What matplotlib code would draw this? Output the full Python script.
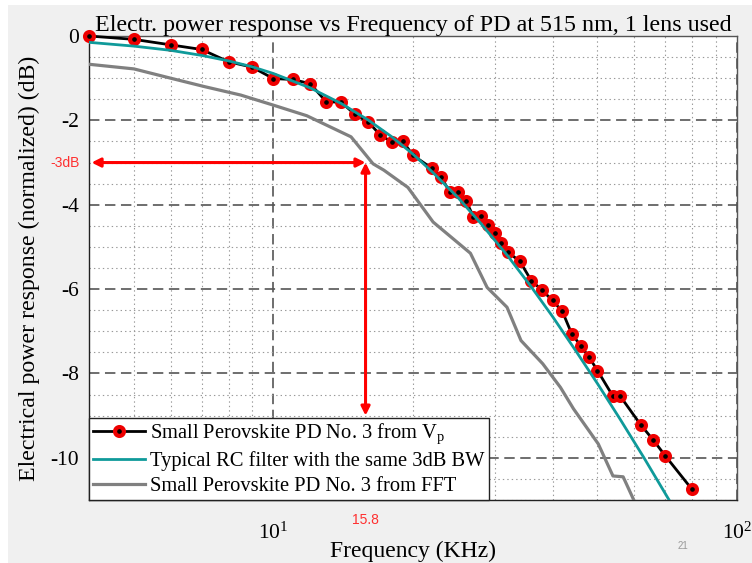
import matplotlib
matplotlib.use("Agg")
import matplotlib.pyplot as plt
from matplotlib.ticker import FixedLocator, LogFormatterSciNotation, NullFormatter, MultipleLocator
from matplotlib.patches import Rectangle
import matplotlib.transforms as mtransforms

plt.rcParams["font.family"] = ["Liberation Serif", "DejaVu Serif"]
plt.rcParams["mathtext.fontset"] = "custom"
plt.rcParams["mathtext.rm"] = "Liberation Serif"
plt.rcParams["mathtext.it"] = "Liberation Serif:italic"
plt.rcParams["mathtext.bf"] = "Liberation Serif:bold"
plt.rcParams["lines.scale_dashes"] = False
plt.rcParams["axes.unicode_minus"] = False

# Measured response from Vp (frequency in kHz, response in dB)
freq_vp = [4, 5, 6, 7, 8, 9, 10, 11, 12, 13, 14, 15, 16, 17, 18, 19, 20,
           22, 23, 24, 25, 26, 27, 28, 29, 30, 31, 32,
           34, 36, 38, 40, 42, 44, 46, 48, 50,
           54, 56, 62, 66, 70, 80]
resp_vp = [0.0, -0.08, -0.21, -0.32, -0.61, -0.74, -1.01,
           -1.03, -1.13, -1.56, -1.57, -1.86, -2.03, -2.35, -2.51, -2.49, -2.83,
           -3.14, -3.34, -3.70, -3.70, -3.90, -4.28, -4.26, -4.48, -4.68, -4.90, -5.12,
           -5.34, -5.80, -6.03, -6.27, -6.53, -7.06, -7.34, -7.62, -7.93,
           -8.54, -8.54, -9.22, -9.58, -9.95, -10.75]

# Reference RC low-pass response
freq_rc = [4, 5, 6, 7, 8, 9, 10, 12, 14, 16, 18, 20, 22, 25, 28, 32, 36, 40,
           45, 50, 56, 63, 72]
resp_rc = [-0.15, -0.24, -0.34, -0.46, -0.59, -0.73, -0.89, -1.23, -1.60, -1.99,
           -2.39, -2.80, -3.22, -3.83, -4.44, -5.21, -5.95, -6.65, -7.48, -8.24,
           -9.09, -10.0, -11.07]

# Response obtained from FFT
freq_fft = [4.0, 5.0, 6.0, 7.1, 8.5, 10.0, 11.8, 14.7, 16.4, 17.3, 19.5, 22.1,
            26.6, 28.9, 31.9, 34.2, 38.1, 41.6, 44.4, 50.2, 54.0, 56.8, 60.0, 61.5]
resp_fft = [-0.67, -0.78, -1.0, -1.2, -1.4, -1.64, -1.89, -2.39, -3.03, -3.18,
            -3.59, -4.41, -5.15, -5.96, -6.43, -7.22, -7.77, -8.33, -8.84, -9.67,
            -10.43, -10.45, -11.02, -11.3]

labels = [r"Small Perovskite PD No. 3 from V$_\mathrm{p}$",
          "Typical RC filter with the same 3dB BW",
          "Small Perovskite PD No. 3 from FFT"]

f_3db = 15.8
level_3db = -3
arrow_bottom = -9

x_ticks = [10, 100]
x_minor = [5, 6, 7, 8, 9, 20, 30, 40, 50, 60, 70, 80, 90]
y_ticks = [0, -2, -4, -6, -8, -10]

fig = plt.figure(figsize=(7.52, 5.63), dpi=100, facecolor="white")
fig.patches.append(Rectangle((8 / 752, 0), 1, 1 - 5 / 563, transform=fig.transFigure,
                             facecolor="#f0f0f0", edgecolor="none", zorder=-10))

ax = fig.add_axes([89 / 752, 1 - 500 / 563, (737 - 89) / 752, (500 - 36) / 563])
ax.set_facecolor("white")

ax.plot(freq_vp, resp_vp, color="black", lw=2.0, marker="o", ms=6.4,
        mfc="black", mec="#ee0000", mew=3.0, clip_on=False, zorder=3, label=labels[0])
ax.plot(freq_rc, resp_rc, color="#0f9a9a", lw=2.0, zorder=4, label=labels[1])
ax.plot(freq_fft, resp_fft, color="#808080", lw=2.3, zorder=4, label=labels[2])

ax.set_xscale("log")
ax.set_xlim(4, 100)
ax.set_ylim(-11, 0)
ax.xaxis.set_major_locator(FixedLocator(x_ticks))
ax.xaxis.set_major_formatter(LogFormatterSciNotation())
ax.xaxis.set_minor_locator(FixedLocator(x_minor))
ax.xaxis.set_minor_formatter(NullFormatter())
ax.yaxis.set_major_locator(FixedLocator(y_ticks))
ax.yaxis.set_minor_locator(MultipleLocator(0.5))

ax.grid(which="major", color="#555555", lw=1.2, linestyle=(0, (7.5, 4)))
ax.grid(which="minor", color="#999999", lw=0.8, linestyle=(0, (1, 2.2)))
ax.set_axisbelow(True)

ax.tick_params(which="both", direction="in", top=True, right=True, length=0)
ax.tick_params(axis="y", labelsize=15.5, pad=7)
ax.tick_params(axis="x", labelsize=15.5, pad=16)
for side in ["left", "bottom"]:
    ax.spines[side].set_color("#222222")
for side in ["top", "right"]:
    ax.spines[side].set_color("#555555")
for s in ax.spines.values():
    s.set_linewidth(1.0)

ax.set_title("Electr. power response vs Frequency of PD at 515 nm, 1 lens used",
             fontsize=17.3, pad=3)
ax.set_xlabel("Frequency (KHz)", fontsize=17)
ax.xaxis.set_label_coords(0.5, -0.088)
ax.set_ylabel("Electrical power response (normalized) (dB)", fontsize=17.2)
ax.yaxis.set_label_coords(-0.075, 0.5)

# -3 dB markers
arrow_kw = dict(arrowstyle="<|-|>", color="red", lw=2.2, mutation_scale=13,
                shrinkA=0, shrinkB=0)
ax.annotate("", xy=(4.05, level_3db), xytext=(f_3db, level_3db),
            arrowprops=arrow_kw, zorder=6)
ax.annotate("", xy=(f_3db, level_3db), xytext=(f_3db, arrow_bottom),
            arrowprops=arrow_kw, zorder=6)

red_txt = "#ff3030"
ax.text(-0.037, level_3db, f"{level_3db}dB", color=red_txt, fontsize=10,
        family=["Liberation Sans", "DejaVu Sans"], ha="center", va="center",
        transform=mtransforms.blended_transform_factory(ax.transAxes, ax.transData))
ax.text(f_3db, -0.043, f"{f_3db}", color=red_txt, fontsize=10,
        family=["Liberation Sans", "DejaVu Sans"], ha="center", va="center",
        transform=mtransforms.blended_transform_factory(ax.transData, ax.transAxes))

fig.text(683 / 752, 1 - 546 / 563, "21", color="#999999", fontsize=7,
         family=["Liberation Sans", "DejaVu Sans"], ha="center", va="center")

leg = ax.legend(loc="lower left", bbox_to_anchor=(0, 0), borderaxespad=0,
                fontsize=14.8, frameon=True, fancybox=False, framealpha=1,
                edgecolor="#222222", handlelength=2.5, handletextpad=0.27,
                borderpad=0.2, labelspacing=0.25)
leg.get_frame().set_linewidth(1.0)
leg.set_zorder(10)

fig.savefig("out.png", dpi=100, facecolor=fig.get_facecolor())
